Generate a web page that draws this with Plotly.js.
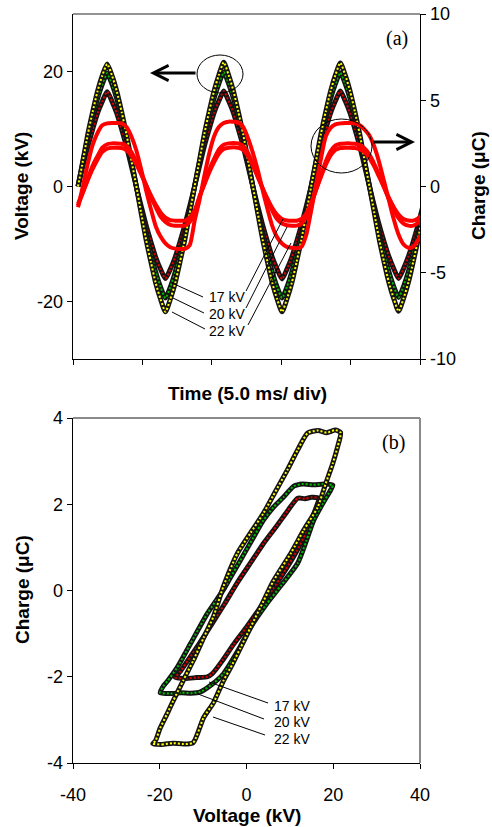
<!DOCTYPE html>
<html>
<head>
<meta charset="utf-8">
<script src="https://cdn.plot.ly/plotly-3.0.1.min.js"></script>
<style>html,body{margin:0;padding:0;background:#fff;}#chart{width:492px;height:827px;}</style>
</head>
<body>
<div id="chart"></div>
<script>
// ---- panel (a): time series (time in ms, 5 ms per division) ----
const time = [
  0.36,0.71,1.06,1.41,1.76,2.11,2.46,2.81,3.16,3.51,3.86,4.21,
  4.56,4.91,5.26,5.61,5.96,6.31,6.66,7.01,7.36,7.71,8.06,8.41,
  8.76,9.11,9.46,9.81,10.16,10.51,10.86,11.21,11.56,11.91,12.26,12.61,
  12.96,13.31,13.66,14.01,14.36,14.71,15.06,15.41,15.76,16.11,16.46,16.81,
  17.16,17.51,17.86,18.21,18.56,18.91,19.26,19.61,19.96,20.31,20.66,21.01,
  21.36,21.71,22.06,22.41,22.76,23.11,23.46,23.81,24.16,24.51,24.86,25.21];

// applied voltage (kV)
const volt22 = [
  0,4.4,9.0,12.9,16.5,19.3,21.3,19.3,16.5,12.9,9.0,4.5,0.1,-4.6,-9.2,-13.1,-16.8,-19.6,-21.8,-19.6,-16.8,-13.1,-9.2,-4.6,
  0,4.5,9.1,13.0,16.6,19.4,21.6,19.4,16.6,13.0,9.1,4.5,0,-4.6,-9.2,-13.1,-16.8,-19.6,-21.8,-19.6,-16.8,-13.1,-9.2,-4.6,
  0,4.5,9.1,13.0,16.6,19.4,21.5,19.4,16.6,13.0,9.1,4.5,0,-4.6,-9.2,-13.1,-16.7,-19.5,-21.7,-19.5,-16.7,-13.1,-9.2,-4.6];
const volt20 = [
  0,4.2,8.3,11.8,15.2,17.8,19.7,17.8,15.2,11.8,8.3,4.2,0,-4.1,-8.1,-11.6,-14.9,-17.5,-19.4,-17.5,-14.9,-11.6,-8.1,-4.1,
  0,4.2,8.4,11.9,15.3,17.9,19.9,17.9,15.3,11.9,8.4,4.2,0,-4.1,-8.1,-11.6,-14.9,-17.5,-19.4,-17.5,-14.9,-11.6,-8.1,-4.1,
  0,4.2,8.4,11.9,15.3,17.9,19.8,17.9,15.3,11.9,8.4,4.2,0,-4.1,-8.1,-11.6,-14.8,-17.4,-19.3,-17.4,-14.8,-11.6,-8.1,-4.1];
const volt17 = [
  0,3.5,6.9,9.9,12.7,14.8,16.5,14.8,12.7,9.9,6.9,3.5,0,-3.4,-6.7,-9.6,-12.3,-14.4,-16.0,-14.4,-12.3,-9.6,-6.7,-3.4,
  0,3.5,7.0,10.0,12.8,14.9,16.6,14.9,12.8,10.0,7.0,3.5,0,-3.4,-6.7,-9.6,-12.3,-14.4,-16.1,-14.4,-12.3,-9.6,-6.7,-3.4,
  0,3.5,7.0,10.0,12.8,14.9,16.6,14.9,12.8,10.0,7.0,3.5,0,-3.4,-6.7,-9.6,-12.2,-14.3,-16.0,-14.3,-12.2,-9.6,-6.7,-3.4];

// transferred charge (µC)
const charge22 = [
  -1.2,0.0,1.3,2.4,3.1,3.55,3.66,3.68,3.68,3.66,3.45,2.9,2.1,1.0,-0.2,-1.3,-2.3,-2.9,-3.3,-3.52,-3.6,-3.62,-3.62,-3.4,
  -2.0,-0.8,0.6,1.9,2.9,3.45,3.68,3.76,3.75,3.72,3.45,2.8,1.95,0.95,-0.2,-1.3,-2.3,-2.95,-3.3,-3.5,-3.55,-3.58,-3.5,-2.8,
  -1.4,0.1,1.6,2.9,3.4,3.6,3.66,3.68,3.68,3.67,3.55,3.3,2.95,2.3,1.4,0.3,-0.8,-1.9,-2.8,-3.35,-3.55,-3.5,-3.1,-2.6];
const charge20 = [
  -1.1,-0.35,0.45,1.2,1.75,2.25,2.45,2.5,2.5,2.48,2.35,2.0,1.45,0.8,0.1,-0.6,-1.2,-1.75,-2.05,-2.22,-2.27,-2.28,-2.27,-2.05,
  -1.6,-0.6,0.15,0.95,1.6,2.15,2.42,2.5,2.52,2.5,2.35,1.95,1.3,0.6,-0.1,-0.8,-1.4,-1.9,-2.15,-2.25,-2.28,-2.27,-2.15,-1.75,
  -1.05,-0.2,0.65,1.45,2.05,2.38,2.48,2.5,2.5,2.48,2.4,2.2,1.85,1.3,0.65,-0.05,-0.75,-1.35,-1.85,-2.15,-2.27,-2.27,-2.1,-1.8];
const charge17 = [
  -1.0,-0.35,0.35,1.0,1.55,2.0,2.2,2.25,2.25,2.23,2.1,1.8,1.3,0.7,0.1,-0.5,-1.05,-1.5,-1.8,-1.95,-1.98,-1.99,-1.98,-1.8,
  -1.4,-0.6,0.1,0.8,1.4,1.9,2.17,2.25,2.27,2.25,2.12,1.75,1.2,0.55,-0.1,-0.7,-1.25,-1.65,-1.88,-1.97,-1.99,-1.98,-1.88,-1.55,
  -0.95,-0.2,0.55,1.25,1.8,2.12,2.23,2.25,2.25,2.23,2.15,1.98,1.65,1.15,0.55,-0.05,-0.65,-1.2,-1.62,-1.88,-1.97,-1.98,-1.85,-1.6];

// ---- panel (b): Lissajous figures (charge vs voltage) ----
const lissV22 = [-21.6,-19.5,-17.0,-14.5,-12.3,-9.9,-7.6,-5.3,-3.2,-1.4,0.9,3.9,6.2,10.2,13.2,16.4,18.3,19.9,21.0,21.7,
  20.5,18.5,16.5,14.1,11.8,9.4,6.2,3.9,0.9,-2.1,-5.3,-7.6,-9.9,-12.3,-14.6,-16.9,-18.3,-19.9,-21.0,-21.6];
const lissQ22 = [-3.55,-3.57,-3.54,-3.56,-3.53,-2.95,-2.6,-2.09,-1.70,-1.33,-0.86,-0.25,0.22,0.86,1.40,1.93,2.49,2.95,3.33,3.66,
  3.72,3.66,3.71,3.65,3.26,2.79,2.21,1.79,1.33,0.86,0.1,-0.6,-1.1,-1.63,-2.09,-2.56,-2.86,-3.19,-3.49,-3.55];
const lissV20 = [-19.9,-17.5,-15.0,-12.8,-10.6,-8.0,-5.3,-2.0,0.9,4.5,8.0,11.8,13.8,15.5,17.6,19.4,19.9,
  18.0,15.5,13.0,10.9,8.5,6.2,3.9,1.6,-1.4,-3.7,-5.3,-9.0,-12.9,-16.0,-18.2,-19.2,-19.9];
const lissQ20 = [-2.37,-2.39,-2.37,-2.38,-2.35,-2.18,-1.93,-1.40,-0.86,-0.33,0.12,0.63,1.15,1.63,2.02,2.33,2.44,
  2.47,2.45,2.47,2.42,2.16,1.93,1.63,1.23,0.70,0.30,0.02,-0.53,-1.23,-1.79,-2.10,-2.22,-2.37];
const lissV17 = [-16.4,-14.0,-11.5,-9.0,-7.9,-5.5,-3.0,0.0,3.0,6.0,9.0,11.5,13.8,15.6,16.6,
  15.0,13.5,11.8,9.5,7.0,4.0,1.0,-2.0,-5.0,-8.0,-11.0,-13.5,-15.3,-16.4];
const lissQ17 = [-2.02,-2.04,-2.02,-2.0,-1.93,-1.62,-1.25,-0.85,-0.42,0.02,0.48,0.9,1.35,1.8,2.14,
  2.16,2.13,2.14,1.85,1.5,1.1,0.65,0.2,-0.3,-0.78,-1.25,-1.62,-1.88,-2.02];

// tick labels
const tickLeftA = [-20, 0, 20];
const tickRightA = [-10, -5, 0, 5, 10];
const timeTicks = [0, 5, 10, 15, 20, 25];
const tickXB = [-40, -20, 0, 20, 40];
const tickYB = [-4, -2, 0, 2, 4];
const seriesLabels = ['17 kV', '20 kV', '22 kV'];

// ---- helpers for decorations placed in page pixels ----
const L = 73, R = 420, T = 14, B = 763;
const px = v => (v - L) / (R - L);
const py = v => (B - v) / (B - T);
const lab = a => a.map(v => (v < 0 ? '-' + Math.abs(v) : String(v)));

const BLACK = '#141414';
const colors = {v22: '#ffff00', v20: '#00c000', v17: '#e00000'};

function band(x, y, xa, ya, col, w) {
  return [
    {x: x, y: y, xaxis: xa, yaxis: ya, mode: 'lines', hoverinfo: 'skip',
     line: {color: BLACK, width: w, shape: 'spline', smoothing: 0.6}},
    {x: x, y: y, xaxis: xa, yaxis: ya, mode: 'lines', hoverinfo: 'skip',
     line: {color: col, width: 2, dash: '2px,2px', shape: 'spline', smoothing: 0.6}}
  ];
}

const data = [].concat(
  band(time, volt17, 'x', 'y', colors.v17, 5),
  band(time, volt20, 'x', 'y', colors.v20, 5),
  band(time, volt22, 'x', 'y', colors.v22, 5),
  [charge22, charge20, charge17].map(q => ({
    x: time, y: q, xaxis: 'x', yaxis: 'y2', mode: 'lines', hoverinfo: 'skip',
    line: {color: '#ff0000', width: 4, shape: 'spline', smoothing: 0.6}})),
  band(lissV17, lissQ17, 'x2', 'y3', colors.v17, 5),
  band(lissV20, lissQ20, 'x2', 'y3', colors.v20, 5),
  band(lissV22, lissQ22, 'x2', 'y3', colors.v22, 5)
);

const axBase = {showgrid: false, zeroline: false, showline: true, linecolor: 'black', linewidth: 1.3,
  ticks: 'outside', ticklen: 5, tickwidth: 1, tickcolor: 'black', tickfont: {size: 18, color: 'black'}};

const FONT = 'Arial, "Liberation Sans", sans-serif';
const titleFont = {family: FONT, size: 19, color: 'black'};
const labelFont = {family: FONT, size: 14, color: 'black'};

const annotations = [
  {text: '<b>Voltage (kV)</b>', x: px(22), y: py(186), textangle: -90},
  {text: '<b>Charge (μC)</b>', x: px(479), y: py(186), textangle: -90},
  {text: '<b>Time (5.0 ms/ div)</b>', x: px(247), y: py(393)},
  {text: '<b>Charge (μC)</b>', x: px(22), y: py(590), textangle: -90},
  {text: '<b>Voltage (kV)</b>', x: px(247), y: py(815)}
].map(a => Object.assign({xref: 'paper', yref: 'paper', showarrow: false, xanchor: 'center', yanchor: 'middle', font: titleFont}, a));

[[297, 706], [314, 722], [331, 739]].forEach((p, i) => {
  annotations.push({text: seriesLabels[i], x: px(226.5), y: py(p[0]), xref: 'paper', yref: 'paper', showarrow: false, xanchor: 'center', yanchor: 'middle', font: labelFont});
  annotations.push({text: seriesLabels[i], x: px(292), y: py(p[1]), xref: 'paper', yref: 'paper', showarrow: false, xanchor: 'center', yanchor: 'middle', font: labelFont});
});
annotations.push({text: '(a)', x: px(397), y: py(38), xref: 'paper', yref: 'paper', showarrow: false, xanchor: 'center', yanchor: 'middle', font: {family: '"Liberation Serif", "Times New Roman", serif', size: 20, color: 'black'}});
annotations.push({text: '(b)', x: px(393), y: py(442), xref: 'paper', yref: 'paper', showarrow: false, xanchor: 'center', yanchor: 'middle', font: {family: '"Liberation Serif", "Times New Roman", serif', size: 20, color: 'black'}});
// arrows
annotations.push({text: '', x: px(150), y: py(73), xref: 'paper', yref: 'paper', showarrow: true, ax: 47, ay: 0, arrowhead: 5, arrowsize: 1, arrowwidth: 3, arrowcolor: 'black'});
annotations.push({text: '', x: px(415), y: py(142), xref: 'paper', yref: 'paper', showarrow: true, ax: -43, ay: 0, arrowhead: 5, arrowsize: 1, arrowwidth: 3, arrowcolor: 'black'});

const seg = (x0, y0, x1, y1, col, w) => ({type: 'line', xref: 'paper', yref: 'paper', x0: px(x0), y0: py(y0), x1: px(x1), y1: py(y1), line: {color: col || 'black', width: w || 1}});
const shapes = [
  // gray frame edges
  seg(73, 14, 420, 14, '#6e6e6e', 1.5),
  seg(73, 418, 420, 418, '#8a8a8a', 2),
  seg(420, 418, 420, 763, '#8a8a8a', 2),
  // circles
  {type: 'circle', xref: 'paper', yref: 'paper', x0: px(197), x1: px(243), y0: py(93), y1: py(55), line: {color: 'black', width: 1}},
  {type: 'circle', xref: 'paper', yref: 'paper', x0: px(311), x1: px(372), y0: py(173), y1: py(119), line: {color: 'black', width: 1}},
  // leaders panel (a)
  seg(203, 297, 172, 283), seg(204, 313, 173, 298), seg(205, 329, 172, 312),
  seg(246, 291, 283, 219), seg(246, 308, 287, 227), seg(248, 325, 291, 243),
  // leaders panel (b)
  seg(268, 703, 209, 682), seg(264, 719, 198, 694), seg(265, 735, 213, 717)
];

const layout = {
  width: 492, height: 827,
  margin: {l: 73, r: 72, t: 14, b: 64, pad: 0},
  paper_bgcolor: '#ffffff', plot_bgcolor: 'rgba(0,0,0,0)',
  showlegend: false,
  font: {family: FONT, size: 18, color: 'black'},
  xaxis: Object.assign({}, axBase, {domain: [0, 1], anchor: 'y', range: [0, 25], tickvals: timeTicks, showticklabels: false}),
  yaxis: Object.assign({}, axBase, {domain: [py(359), 1], anchor: 'x', range: [-30, 30], tickvals: tickLeftA, ticktext: lab(tickLeftA)}),
  yaxis2: Object.assign({}, axBase, {overlaying: 'y', side: 'right', anchor: 'x', range: [-10, 10], tickvals: tickRightA, ticktext: lab(tickRightA)}),
  xaxis2: Object.assign({}, axBase, {domain: [0, 1], anchor: 'y3', range: [-40, 40], tickvals: tickXB, ticktext: lab(tickXB), ticklabelstandoff: 10}),
  yaxis3: Object.assign({}, axBase, {domain: [0, py(418)], anchor: 'x2', range: [-4, 4], tickvals: tickYB, ticktext: lab(tickYB)}),
  annotations: annotations,
  shapes: shapes
};

Plotly.newPlot('chart', data, layout, {displayModeBar: false, staticPlot: true});
</script>
</body>
</html>
